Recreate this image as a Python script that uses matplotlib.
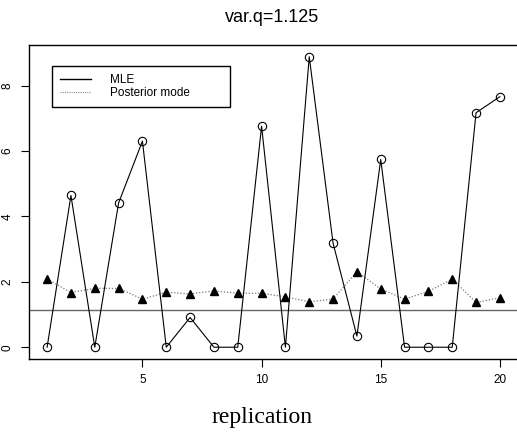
import matplotlib
matplotlib.use("Agg")
import matplotlib.pyplot as plt
from matplotlib.lines import Line2D

# Data
replication = list(range(1, 21))
mle = [0.0, 4.64, 0.0, 4.41, 6.30, 0.0, 0.91, 0.0, 0.0, 6.76,
       0.0, 8.88, 3.18, 0.34, 5.74, 0.0, 0.0, 0.0, 7.17, 7.66]
post_mode = [2.09, 1.67, 1.80, 1.80, 1.47, 1.68, 1.63, 1.72, 1.65, 1.65,
             1.54, 1.39, 1.47, 2.31, 1.78, 1.47, 1.71, 2.08, 1.37, 1.51]
var_q = 1.125
x_ticks = [5, 10, 15, 20]
y_ticks = [0, 2, 4, 6, 8]

plt.rcParams["font.family"] = ["Liberation Sans", "DejaVu Sans"]

W, H = 517, 437
fig = plt.figure(figsize=(W / 100, H / 100), dpi=100)
ax = fig.add_axes([29 / W, (H - 359) / H, 489 / W, 314 / H])

ax.plot(replication, mle, color="black", lw=0.8, marker="o", ms=6,
        mfc="none", mec="black", mew=0.8, zorder=3)
ax.plot(replication, post_mode, color="#777777", lw=0.9, ls=(0, (1, 1.5)),
        marker="^", ms=5.5, mfc="black", mec="black", zorder=2)
ax.axhline(var_q, color="#666666", lw=1.0, zorder=1)

ax.set_xlim(0.24, 20.76)
ax.set_ylim(-0.36, 9.24)
ax.set_xticks(x_ticks)
ax.set_yticks(y_ticks)
ax.tick_params(axis="both", length=6, width=0.8, labelsize=8.5, pad=5)
for lab in ax.get_yticklabels():
    lab.set_rotation(90)
    lab.set_va("center")
for sp in ax.spines.values():
    sp.set_linewidth(1.0)

handles = [Line2D([], [], color="black", lw=1.0),
           Line2D([], [], color="#888888", lw=0.8, ls=(0, (1, 1)))]
leg = ax.legend(handles, ["MLE", "Posterior mode"], loc="upper left",
                bbox_to_anchor=(0.047, 0.933, 0.364, 0.0), mode="expand",
                borderaxespad=0, fontsize=8.5, fancybox=False, edgecolor="black",
                framealpha=1, handlelength=2.6, handletextpad=1.6,
                labelspacing=0.05, borderpad=0.7)
leg.get_frame().set_linewidth(1.0)

fig.text(272 / W, 1 - 17 / H, "var.q=1.125", ha="center", va="center",
         fontsize=13)
fig.text(262 / W, 1 - 417 / H, "replication", ha="center", va="center",
         fontsize=17, family=["Liberation Serif", "DejaVu Serif"])

fig.savefig("out.png", dpi=100)
